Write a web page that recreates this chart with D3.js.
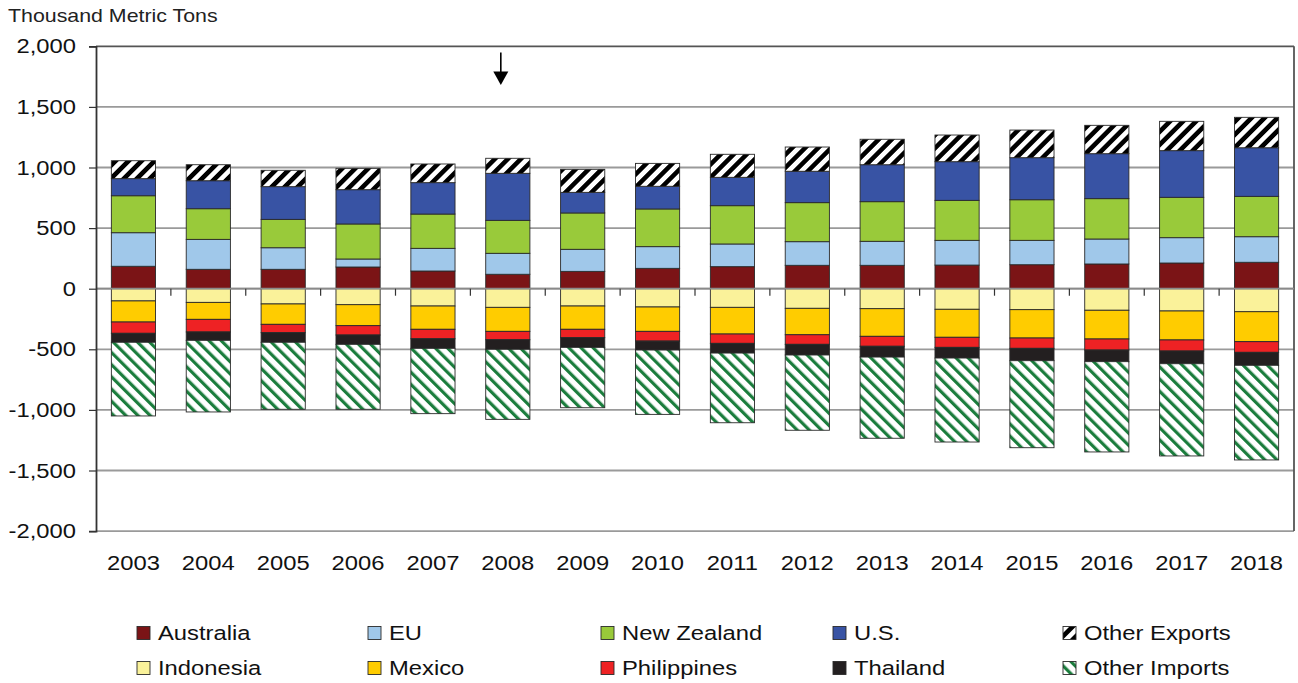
<!DOCTYPE html>
<html>
<head>
<meta charset="utf-8">
<script src="https://cdn.jsdelivr.net/npm/d3@7"></script>
<style>
  body { margin: 0; background: #fff; }
  svg { display: block; font-family: Arial, "Liberation Sans", sans-serif; }
</style>
</head>
<body>
<svg id="chart" width="1298" height="683"></svg>
<script>
// ---- Data (thousand metric tons) ----
const years = ["2003","2004","2005","2006","2007","2008","2009","2010","2011","2012","2013","2014","2015","2016","2017","2018"];
// Exports (positive)
const australia    = [185,160,160,179,146,119,143,168,182,193,193,195,198,204,212,218];
const eu           = [277,247,178, 66,187,173,182,179,187,195,198,204,201,206,209,211];
const newZealand   = [305,253,234,289,283,272,300,311,316,322,327,330,335,333,333,333];
const us           = [141,231,270,283,259,388,170,187,234,259,305,319,347,371,385,401];
const otherExports = [148,132,135,176,154,124,190,189,190,200,210,220,228,234,242,251];
// Imports (shown negative)
const indonesia    = [101,113,126,132,143,154,143,151,154,162,165,170,173,178,184,190];
const mexico       = [174,140,168,173,192,198,192,201,220,218,228,231,234,237,239,247];
const philippines  = [ 93,104, 69, 77, 78, 69, 69, 80, 77, 79, 82, 83, 85, 91, 91, 88];
const thailand     = [ 74, 69, 79, 77, 79, 79, 80, 74, 80, 88, 89, 88,102, 96,105,107];
const otherImports = [608,591,553,536,539,578,498,531,575,621,670,693,718,745,761,781];
const yTicks = [-2000,-1500,-1000,-500,0,500,1000,1500,2000];
const yAxisTitle = "Thousand Metric Tons";

const series = [
  {name:"Australia",     values:australia,    sign: 1, fill:"#7B1416"},
  {name:"EU",            values:eu,           sign: 1, fill:"#A0C8EA"},
  {name:"New Zealand",   values:newZealand,   sign: 1, fill:"#99CA3A"},
  {name:"U.S.",          values:us,           sign: 1, fill:"#3853A4"},
  {name:"Other Exports", values:otherExports, sign: 1, fill:"url(#patExp)"},
  {name:"Indonesia",     values:indonesia,    sign:-1, fill:"#FAF29A"},
  {name:"Mexico",        values:mexico,       sign:-1, fill:"#FFCC00"},
  {name:"Philippines",   values:philippines,  sign:-1, fill:"#EE2224"},
  {name:"Thailand",      values:thailand,     sign:-1, fill:"#231F20"},
  {name:"Other Imports", values:otherImports, sign:-1, fill:"url(#patImp)"}
];

const SX = 1.22; // horizontal stretch of the original lettering
const svg = d3.select("#chart");
const defs = svg.append("defs");
function stripes(id, color, angle, w, period) {
  const p = defs.append("pattern").attr("id", id)
    .attr("patternUnits","userSpaceOnUse").attr("width", period).attr("height", period)
    .attr("patternTransform", `rotate(${angle})`);
  p.append("rect").attr("width", period).attr("height", period).attr("fill","#fff");
  p.append("rect").attr("width", w).attr("height", period).attr("fill", color);
}
stripes("patExp", "#000", 45, 4.6, 9.2);
stripes("patImp", "#1B7D3D", -45, 3.2, 8.6);

const plotL = 96, plotR = 1294, plotT = 46.3, plotB = 531.1;
const x = d3.scaleBand().domain(years).range([plotL, plotR]).paddingInner(0.41).paddingOuter(0.205);
const y = d3.scaleLinear().domain([-2000, 2000]).range([plotB, plotT]);

function label(parent, tx, ty, txt, size, anchor) {
  return parent.append("text")
    .attr("transform", `translate(${tx},${ty}) scale(${SX},1)`)
    .attr("text-anchor", anchor || "start")
    .attr("font-size", size).attr("fill", "#111").text(txt);
}

// table for stacking
const table = years.map((yr, i) => {
  const row = {year: yr};
  series.forEach(s => row[s.name] = s.sign * s.values[i]);
  return row;
});
const stacked = d3.stack().keys(series.map(s => s.name)).offset(d3.stackOffsetDiverging)(table);

// gridlines
svg.append("g").selectAll("line").data(yTicks.filter(t => t !== 2000)).join("line")
  .attr("x1", plotL).attr("x2", plotR)
  .attr("y1", d => y(d)).attr("y2", d => y(d))
  .attr("stroke", "#9a9a9a").attr("stroke-width", 1.8);

// frame top / right
svg.append("line").attr("x1", plotL).attr("x2", plotR).attr("y1", y(2000)).attr("y2", y(2000))
  .attr("stroke", "#555").attr("stroke-width", 1.8);
svg.append("line").attr("x1", plotR).attr("x2", plotR).attr("y1", plotT).attr("y2", plotB)
  .attr("stroke", "#555").attr("stroke-width", 1.8);

// bars
const barG = svg.append("g");
stacked.forEach((layer, k) => {
  barG.append("g").selectAll("rect").data(layer).join("rect")
    .attr("x", d => x(d.data.year))
    .attr("width", x.bandwidth())
    .attr("y", d => y(Math.max(d[0], d[1])))
    .attr("height", d => Math.abs(y(d[0]) - y(d[1])))
    .attr("fill", series[k].fill)
    .attr("stroke", "#2a2a2a").attr("stroke-width", 0.9);
});

// zero line with category ticks
svg.append("line").attr("x1", plotL).attr("x2", plotR).attr("y1", y(0)).attr("y2", y(0))
  .attr("stroke", "#8a8a8a").attr("stroke-width", 1.8);
const step = x.step();
svg.append("g").selectAll("line").data(d3.range(1, years.length)).join("line")
  .attr("x1", i => plotL + i * step).attr("x2", i => plotL + i * step)
  .attr("y1", y(0)).attr("y2", y(0) + 7)
  .attr("stroke", "#333").attr("stroke-width", 1.2);

// left axis
const fmt = d => d3.format(",")(d).replace("\u2212", "-");
const yAxis = svg.append("g").attr("transform", `translate(${plotL},0)`)
  .call(d3.axisLeft(y).tickValues(yTicks).tickSize(7).tickFormat(""));
yAxis.select(".domain").attr("stroke", "#333").attr("stroke-width", 1.8);
yAxis.selectAll(".tick line").attr("stroke", "#333").attr("stroke-width", 1.2);
const yLab = svg.append("g");
yTicks.forEach(t => label(yLab, 76, y(t) + 7, fmt(t), 19.5, "end"));

// y-axis title
label(svg, 8, 22, yAxisTitle, 17.5, "start").attr("fill", "#222");

// x labels at bottom
const xLab = svg.append("g");
years.forEach(yr => label(xLab, x(yr) + x.bandwidth() / 2, 570, yr, 19.5, "middle"));

// arrow annotation above 2008
const ax = x("2008") + x.bandwidth() / 2 - 7;
svg.append("line").attr("x1", ax).attr("x2", ax).attr("y1", 52.5).attr("y2", 74)
  .attr("stroke", "#000").attr("stroke-width", 1.6);
svg.append("path").attr("d", `M${ax-7.5},71.5 L${ax+7.5},71.5 L${ax},85 Z`).attr("fill", "#000");

// legend
const legCols = [137, 368, 601, 833, 1063];
const legRows = [633, 668];
const exportsList = series.filter(s => s.sign > 0);
const importsList = series.filter(s => s.sign < 0);
[exportsList, importsList].forEach((list, r) => {
  list.forEach((s, c) => {
    const g = svg.append("g").attr("transform", `translate(${legCols[c]},${legRows[r]})`);
    g.append("rect").attr("x", 0).attr("y", -6.5).attr("width", 13).attr("height", 13)
      .attr("fill", s.fill).attr("stroke", "#2a2a2a").attr("stroke-width", 0.9);
    label(g, 21, 7, s.name, 19.5, "start");
  });
});
</script>
</body>
</html>
